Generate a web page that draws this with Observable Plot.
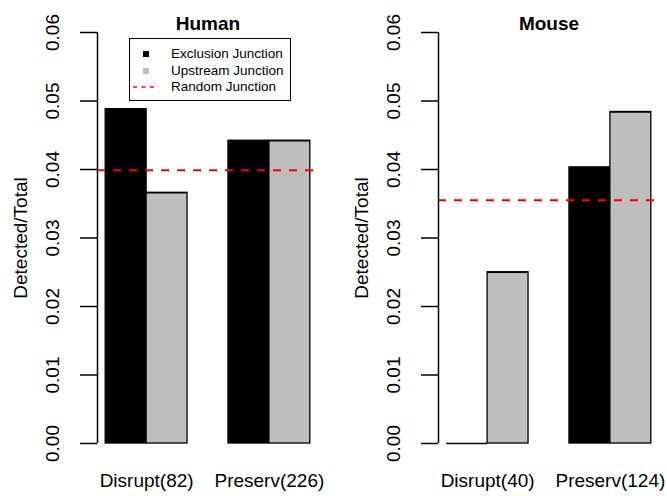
<!DOCTYPE html>
<html>
<head>
<meta charset="utf-8">
<script src="https://cdn.jsdelivr.net/npm/d3@7"></script>
<script src="https://cdn.jsdelivr.net/npm/@observablehq/plot@0.6"></script>
<style>
  html, body { margin: 0; padding: 0; background: white; }
  #wrap { position: relative; width: 667px; height: 496px; display: flex; font-family: "Liberation Sans", Arial, Helvetica, sans-serif; }
  #wrap svg { display: block; }
  .legend { position: absolute; left: 129px; top: 38px; width: 162px; height: 63px; border: 1px solid black; box-sizing: border-box; background: white; }
  .lrow { position: absolute; left: 41px; font-size: 13.5px; line-height: 16px; white-space: nowrap; transform: translateY(-50%); }
  .sq { position: absolute; width: 6px; height: 6px; }
  .dash { position: absolute; width: 22px; height: 4px; overflow: visible; }
</style>
</head>
<body>
<div id="wrap"></div>
<script>
// ---- data ----
const groups = ["Disrupt", "Preserv"];
const seriesNames = ["Exclusion Junction", "Upstream Junction"];
const randomName = "Random Junction";
const yLabel = "Detected/Total";
const yTicks = [0, 0.01, 0.02, 0.03, 0.04, 0.05, 0.06];

const humanTitle = "Human";
const humanCounts = [82, 226];
const humanExclusion = [0.0488, 0.0442];
const humanUpstream = [0.0366, 0.0442];
const humanRandom = 0.0399;

const mouseTitle = "Mouse";
const mouseCounts = [40, 124];
const mouseExclusion = [0.0, 0.0403];
const mouseUpstream = [0.025, 0.0484];
const mouseRandom = 0.0355;

// ---- drawing ----
const FONT = '"Liberation Sans", Arial, Helvetica, sans-serif';
const FS = 19;
const xDomain = [0.8, 6.2];

function panel({title, counts, exclusion, upstream, random, width, marginLeft, marginRight}) {
  const bars = [];
  groups.forEach((g, i) => {
    [exclusion[i], upstream[i]].forEach((v, j) => {
      bars.push({group: g, series: seriesNames[j], value: v, x1: 3 * i + j + 1, x2: 3 * i + j + 2});
    });
  });
  const centers = groups.map((g, i) => ({label: `${g}(${counts[i]})`, x: 3 * i + 2}));
  return Plot.plot({
    width, height: 496,
    marginLeft, marginRight, marginTop: 32, marginBottom: 53,
    x: {domain: xDomain, axis: null},
    y: {domain: [0, 0.06], axis: null},
    color: {domain: seriesNames, range: ["#000000", "#BEBEBE"]},
    style: {fontFamily: FONT, background: "white", overflow: "visible", color: "black"},
    marks: [
      Plot.rect(bars, {x1: "x1", x2: "x2", y1: 0, y2: "value", fill: "series", stroke: "black", strokeWidth: 1.3}),
      Plot.ruleY(bars, {y: "value", x1: "x1", x2: "x2", stroke: "black", strokeWidth: 1.5}),
      Plot.ruleY([random], {stroke: "red", strokeWidth: 2, strokeDasharray: "8,8"}),
      Plot.ruleX([xDomain[0]], {y1: 0, y2: 0.06, stroke: "black", strokeWidth: 1.5}),
      Plot.axisY({ticks: yTicks, tickSize: 17, tickFormat: () => "", label: null, strokeWidth: 1.5}),
      Plot.text(yTicks, {y: d => d, frameAnchor: "left", dx: -45, rotate: -90, text: d => d3.format(".2f")(d), fontSize: FS, textAnchor: "middle", lineAnchor: "middle"}),
      Plot.text([yLabel], {frameAnchor: "left", dx: -77, rotate: -90, text: d => d, fontSize: FS, textAnchor: "middle", lineAnchor: "middle"}),
      Plot.text([title], {frameAnchor: "top", dy: -9, text: d => d, fontSize: FS, fontWeight: "bold", textAnchor: "middle", lineAnchor: "middle"}),
      Plot.text(centers, {x: "x", frameAnchor: "bottom", dy: 37, text: "label", fontSize: FS, textAnchor: "middle", lineAnchor: "middle"})
    ]
  });
}

const wrap = document.getElementById("wrap");
wrap.appendChild(panel({title: humanTitle, counts: humanCounts, exclusion: humanExclusion, upstream: humanUpstream, random: humanRandom, width: 334, marginLeft: 97, marginRight: 16}));
wrap.appendChild(panel({title: mouseTitle, counts: mouseCounts, exclusion: mouseExclusion, upstream: mouseUpstream, random: mouseRandom, width: 333, marginLeft: 104, marginRight: 8}));

// legend (inside the Human panel)
const legend = document.createElement("div");
legend.className = "legend";
const rows = [
  {label: seriesNames[0], kind: "sq", color: "#000000"},
  {label: seriesNames[1], kind: "sq", color: "#BEBEBE"},
  {label: randomName, kind: "dash", color: "red"}
];
rows.forEach((r, i) => {
  const cy = 15 + i * 16.7;
  if (r.kind === "sq") {
    const s = document.createElement("div");
    s.className = "sq";
    s.style.left = "13px";
    s.style.top = (cy - 3) + "px";
    s.style.background = r.color;
    legend.appendChild(s);
  } else {
    const ns = "http://www.w3.org/2000/svg";
    const svg = document.createElementNS(ns, "svg");
    svg.setAttribute("class", "dash");
    svg.style.left = "3px";
    svg.style.top = (cy - 2) + "px";
    svg.setAttribute("width", "22");
    svg.setAttribute("height", "4");
    const ln = document.createElementNS(ns, "line");
    ln.setAttribute("x1", "0"); ln.setAttribute("x2", "21");
    ln.setAttribute("y1", "2"); ln.setAttribute("y2", "2");
    ln.setAttribute("stroke", "red");
    ln.setAttribute("stroke-width", "1.3");
    ln.setAttribute("stroke-dasharray", "4,4.5");
    svg.appendChild(ln);
    legend.appendChild(svg);
  }
  const t = document.createElement("div");
  t.className = "lrow";
  t.style.top = cy + "px";
  t.textContent = r.label;
  legend.appendChild(t);
});
wrap.appendChild(legend);
</script>
</body>
</html>
